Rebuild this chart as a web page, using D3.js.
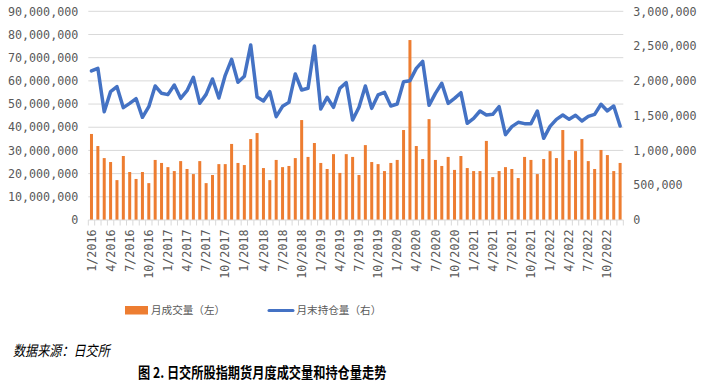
<!DOCTYPE html>
<html>
<head>
<meta charset="utf-8">
<script src="https://cdn.jsdelivr.net/npm/d3@7"></script>
<style>
  html, body { margin: 0; padding: 0; background: #fff; }
  svg { display: block; }
</style>
</head>
<body>
<script>
// ---------- DATA ----------
const years = [2016, 2017, 2018, 2019, 2020, 2021, 2022];
const monthNums = [1, 2, 3, 4, 5, 6, 7, 8, 9, 10, 11, 12];
const categories = [];
years.forEach(y => monthNums.forEach(m => categories.push(m + "/" + y)));

// Monthly trading volume (left axis), millions of contracts
const volumeM = [
  37.1, 31.9, 26.7, 25.0, 17.2, 27.6, 20.7, 17.7, 20.7, 15.9, 25.9, 24.6,
  22.8, 21.1, 25.4, 22.0, 19.8, 25.4, 15.9, 19.4, 24.1, 24.1, 32.8, 24.6,
  23.7, 34.9, 37.5, 22.4, 17.2, 25.9, 22.8, 23.3, 26.7, 43.1, 27.2, 33.2,
  24.6, 22.0, 28.4, 20.3, 28.4, 27.2, 19.4, 32.3, 25.0, 24.1, 21.1, 24.6,
  25.9, 38.8, 77.6, 31.9, 26.3, 43.5, 25.9, 23.3, 27.2, 21.6, 27.6, 22.4,
  21.1, 21.1, 34.1, 18.5, 21.1, 22.8, 22.0, 18.1, 27.2, 25.9, 19.8, 26.3,
  29.7, 26.7, 38.8, 25.9, 29.7, 34.9, 25.4, 22.0, 30.2, 28.0, 21.1, 24.6
];

// Month-end open interest (right axis), millions of contracts
const openInterestM = [
  2.142, 2.180, 1.557, 1.845, 1.917, 1.615, 1.677, 1.744, 1.476, 1.629, 1.926, 1.821,
  1.802, 1.941, 1.749, 1.859, 2.051, 1.677, 1.806, 2.027, 1.754, 2.080, 2.310, 1.979,
  2.065, 2.516, 1.768, 1.711, 1.845, 1.485, 1.634, 1.691, 2.099, 1.869, 1.893, 2.501,
  1.596, 1.763, 1.620, 1.893, 1.974, 1.437, 1.620, 1.926, 1.605, 1.797, 1.835, 1.639,
  1.667, 1.988, 2.003, 2.180, 2.281, 1.648, 1.821, 1.965, 1.677, 1.749, 1.830, 1.390,
  1.461, 1.567, 1.509, 1.519, 1.629, 1.227, 1.342, 1.404, 1.385, 1.385, 1.567, 1.174,
  1.346, 1.447, 1.509, 1.447, 1.505, 1.423, 1.490, 1.519, 1.663, 1.567, 1.639, 1.351
];

const xTickLabels = [
  "1/2016","4/2016","7/2016","10/2016","1/2017","4/2017","7/2017","10/2017",
  "1/2018","4/2018","7/2018","10/2018","1/2019","4/2019","7/2019","10/2019",
  "1/2020","4/2020","7/2020","10/2020","1/2021","4/2021","7/2021","10/2021",
  "1/2022","4/2022","7/2022","10/2022"
];
const leftTicks = [0, 10, 20, 30, 40, 50, 60, 70, 80, 90];          // millions
const rightTicks = [0, 0.5, 1, 1.5, 2, 2.5, 3];                     // millions

const seriesNames = ["月成交量（左）", "月末持仓量（右）"];
const sourceText = "数据来源：日交所";
const titleText = "图 2. 日交所股指期货月度成交量和持仓量走势";

// ---------- LAYOUT ----------
const W = 706, H = 385;
const plotL = 88.3, plotR = 623.3, plotT = 11.3, plotB = 220;
const colBar = "#ED7D31", colLine = "#4472C4", colGrid = "#D9D9D9", colText = "#595959";
const tickFont = "'DejaVu Sans Mono', 'Liberation Mono', monospace";
const cjkFont = "'Noto Sans CJK SC', 'Noto Sans', sans-serif";

const svg = d3.select("body").append("svg").attr("width", W).attr("height", H);

const xCell = d3.scaleBand().domain(categories).range([plotL, plotR]).padding(0);
const yL = d3.scaleLinear().domain([0, 90]).range([plotB, plotT]);
const yR = d3.scaleLinear().domain([0, 3]).range([plotB, plotT]);
const fmt = d3.format(",");

// gridlines
svg.append("g").selectAll("line").data(leftTicks.filter(d => d > 0)).join("line")
  .attr("x1", plotL).attr("x2", plotR)
  .attr("y1", d => yL(d)).attr("y2", d => yL(d))
  .attr("stroke", colGrid).attr("stroke-width", 1);

// bars
const barW = xCell.bandwidth() * 0.47;
svg.append("g").selectAll("rect").data(categories).join("rect")
  .attr("x", (c) => xCell(c) + (xCell.bandwidth() - barW) / 2)
  .attr("width", barW)
  .attr("y", (c, i) => yL(volumeM[i]))
  .attr("height", (c, i) => yL(0) - yL(volumeM[i]))
  .attr("fill", colBar);

// line
const line = d3.line()
  .x((d, i) => xCell(categories[i]) + xCell.bandwidth() / 2)
  .y(d => yR(d));
svg.append("path").datum(openInterestM)
  .attr("d", line).attr("fill", "none")
  .attr("stroke", colLine).attr("stroke-width", 3.5)
  .attr("stroke-linejoin", "round").attr("stroke-linecap", "round");

// x axis line + ticks at cell boundaries
svg.append("line").attr("x1", plotL).attr("x2", plotR).attr("y1", plotB).attr("y2", plotB)
  .attr("stroke", colGrid).attr("stroke-width", 1);
svg.append("g").selectAll("line").data(categories.concat(["__end"])).join("line")
  .attr("x1", (c, i) => i < categories.length ? xCell(c) : plotR)
  .attr("x2", (c, i) => i < categories.length ? xCell(c) : plotR)
  .attr("y1", plotB).attr("y2", plotB + 5.5)
  .attr("stroke", colGrid).attr("stroke-width", 1);

// left axis labels
const gL = svg.append("g").attr("transform", `translate(${plotL},0)`)
  .call(d3.axisLeft(yL).tickValues(leftTicks).tickSize(0).tickPadding(10).tickFormat(d => fmt(d * 1e6)));
gL.select(".domain").remove();
gL.selectAll("text").attr("font-family", tickFont).attr("font-size", 11.7).attr("fill", colText);

// right axis labels
const gR = svg.append("g").attr("transform", `translate(${plotR},0)`)
  .call(d3.axisRight(yR).tickValues(rightTicks).tickSize(0).tickPadding(10).tickFormat(d => fmt(Math.round(d * 1e6))));
gR.select(".domain").remove();
gR.selectAll("text").attr("font-family", tickFont).attr("font-size", 11.7).attr("fill", colText);

// bottom axis labels (rotated)
const gB = svg.append("g").attr("transform", `translate(0,${plotB})`)
  .call(d3.axisBottom(xCell).tickValues(xTickLabels).tickSize(0));
gB.select(".domain").remove();
gB.selectAll("text")
  .attr("font-family", tickFont).attr("font-size", 11.7).attr("fill", colText)
  .attr("transform", "rotate(-90)")
  .attr("text-anchor", "end")
  .attr("x", -9.5).attr("y", 0).attr("dy", "0.35em");

// legend
const lg = svg.append("g");
lg.append("rect").attr("x", 125).attr("y", 306).attr("width", 23).attr("height", 8.5).attr("fill", colBar);
lg.append("text").attr("x", 151).attr("y", 310.5).attr("dy", "0.35em")
  .attr("font-family", cjkFont).attr("font-size", 10.6).attr("fill", colText).text(seriesNames[0]);
lg.append("line").attr("x1", 269).attr("x2", 293).attr("y1", 310.5).attr("y2", 310.5)
  .attr("stroke", colLine).attr("stroke-width", 3).attr("stroke-linecap", "round");
lg.append("text").attr("x", 296.5).attr("y", 310.5).attr("dy", "0.35em")
  .attr("font-family", cjkFont).attr("font-size", 10.6).attr("fill", colText).text(seriesNames[1]);

// source note (italic)
svg.append("text")
  .attr("transform", "translate(13,350.5) scale(1,1.2)")
  .attr("dy", "0.35em")
  .attr("font-family", cjkFont).attr("font-style", "italic").attr("font-size", 12.1)
  .attr("fill", "#000").text(sourceText);

// title
svg.append("text")
  .attr("transform", "translate(138,372.5) scale(1,1.2)")
  .attr("dy", "0.35em")
  .attr("font-family", cjkFont).attr("font-weight", 700).attr("font-size", 12.2)
  .attr("fill", "#000").text(titleText);
</script>
</body>
</html>
